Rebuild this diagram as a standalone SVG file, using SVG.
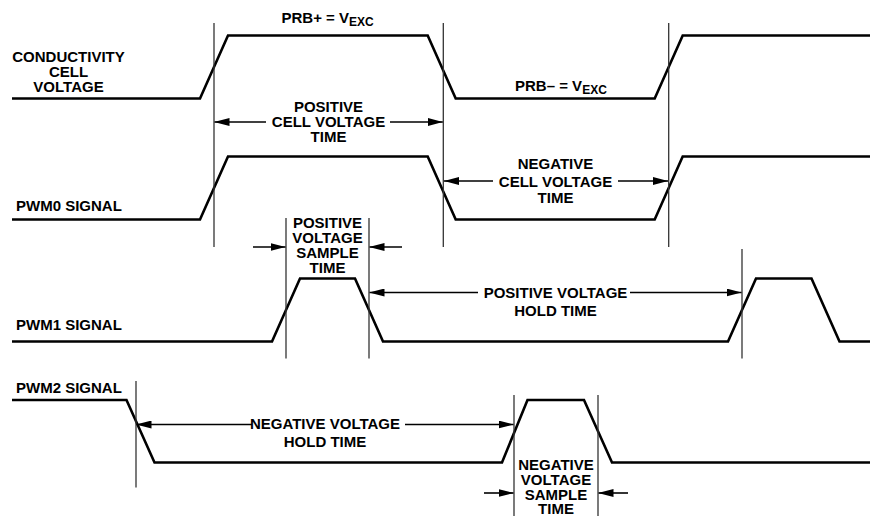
<svg xmlns="http://www.w3.org/2000/svg" width="870" height="516" viewBox="0 0 870 516">
<style>
.wave{fill:none;stroke:#000;stroke-width:2.6;stroke-linejoin:miter}
.vl{stroke:#333;stroke-width:1.3}
.ar{stroke:#000;stroke-width:1.6;marker-end:url(#ah)}
text{font-family:"Liberation Sans",Arial,sans-serif;font-weight:bold;font-size:15px;fill:#000}
.c{text-anchor:middle}
.sub{font-size:12px}
</style>
<defs>
<marker id="ah" viewBox="0 0 15 8" refX="15" refY="4" markerWidth="15" markerHeight="8" markerUnits="userSpaceOnUse" orient="auto">
<path d="M0,0 L15,4 L0,8 z" fill="#000"/>
</marker>
</defs>
<rect width="870" height="516" fill="#fff"/>

<g id="conductivity-cell-voltage">
<path class="wave" d="M12,98.5 L200,98.5 L228,35.5 L427.7,35.5 L455.7,98.5 L654.7,98.5 L682.7,35.5 L870,35.5"/>
<text class="c" x="68.5" y="61.7">CONDUCTIVITY</text>
<text class="c" x="68.5" y="76.5">CELL</text>
<text class="c" x="68.5" y="91.5">VOLTAGE</text>
<text x="281.5" y="22.5">PRB+ = V<tspan class="sub" dy="3.5">EXC</tspan></text>
<text x="515" y="90.7">PRB– = V<tspan class="sub" dy="3.5">EXC</tspan></text>
</g>

<g id="pwm0-signal">
<path class="wave" d="M12,219.5 L200,219.5 L228,156.5 L427.7,156.5 L455.7,219.5 L654.7,219.5 L682.7,156.5 L870,156.5"/>
<text x="16" y="211">PWM0 SIGNAL</text>
</g>

<g id="pwm1-signal">
<path class="wave" d="M12,341.5 L272,341.5 L300,278.5 L355,278.5 L383,341.5 L728,341.5 L756,278.5 L811.5,278.5 L839.5,341.5 L870,341.5"/>
<text x="16" y="330">PWM1 SIGNAL</text>
</g>

<g id="pwm2-signal">
<path class="wave" d="M12,400 L126.5,400 L154.5,462.5 L502,462.5 L527.5,400 L584,400 L612,462.5 L870,462.5"/>
<text x="16" y="393.3">PWM2 SIGNAL</text>
</g>

<g id="markers">
<line class="vl" x1="214" y1="23" x2="214" y2="247"/>
<line class="vl" x1="443.3" y1="23" x2="443.3" y2="247"/>
<line class="vl" x1="668.7" y1="23" x2="668.7" y2="247"/>
<line class="vl" x1="286" y1="218" x2="286" y2="358.5"/>
<line class="vl" x1="369" y1="218" x2="369" y2="358.5"/>
<line class="vl" x1="742" y1="249" x2="742" y2="358.5"/>
<line class="vl" x1="136" y1="381" x2="136" y2="487.5"/>
<line class="vl" x1="514" y1="395" x2="514" y2="516"/>
<line class="vl" x1="598" y1="395" x2="598" y2="516"/>
</g>

<g id="positive-cell-voltage-time">
<text class="c" x="328.5" y="111.7">POSITIVE</text>
<text class="c" x="328.5" y="126.7">CELL VOLTAGE</text>
<text class="c" x="328.5" y="141.7">TIME</text>
</g>
<g id="negative-cell-voltage-time">
<text class="c" x="555.5" y="169.3">NEGATIVE</text>
<text class="c" x="555.5" y="186.5">CELL VOLTAGE</text>
<text class="c" x="555.5" y="203.3">TIME</text>
</g>
<g id="positive-voltage-sample-time">
<text class="c" x="327.5" y="228.3">POSITIVE</text>
<text class="c" x="327.5" y="243.3">VOLTAGE</text>
<text class="c" x="327.5" y="258.3">SAMPLE</text>
<text class="c" x="327.5" y="273.3">TIME</text>
</g>
<g id="positive-voltage-hold-time">
<text class="c" x="555.5" y="298.3">POSITIVE VOLTAGE</text>
<text class="c" x="555.5" y="315.7">HOLD TIME</text>
</g>
<g id="negative-voltage-hold-time">
<text class="c" x="325" y="429.3">NEGATIVE VOLTAGE</text>
<text class="c" x="325" y="446.7">HOLD TIME</text>
</g>
<g id="negative-voltage-sample-time">
<text class="c" x="556" y="470">NEGATIVE</text>
<text class="c" x="556" y="485">VOLTAGE</text>
<text class="c" x="556" y="500">SAMPLE</text>
<text class="c" x="556" y="514.3">TIME</text>
</g>

<g id="connectors">
<line class="ar" x1="266" y1="122" x2="214.5" y2="122"/>
<line class="ar" x1="390" y1="122" x2="442.8" y2="122"/>
<line class="ar" x1="493" y1="181" x2="444" y2="181"/>
<line class="ar" x1="618" y1="181" x2="668" y2="181"/>
<line class="ar" x1="253" y1="247" x2="285.5" y2="247"/>
<line class="ar" x1="402" y1="247" x2="369.5" y2="247"/>
<line class="ar" x1="478" y1="292.5" x2="369.5" y2="292.5"/>
<line class="ar" x1="630" y1="292.5" x2="741.5" y2="292.5"/>
<line class="ar" x1="252" y1="424.5" x2="136.5" y2="424.5"/>
<line class="ar" x1="405" y1="424.5" x2="513.5" y2="424.5"/>
<line class="ar" x1="484" y1="493" x2="513.5" y2="493"/>
<line class="ar" x1="628" y1="493" x2="598.5" y2="493"/>
</g>
</svg>
